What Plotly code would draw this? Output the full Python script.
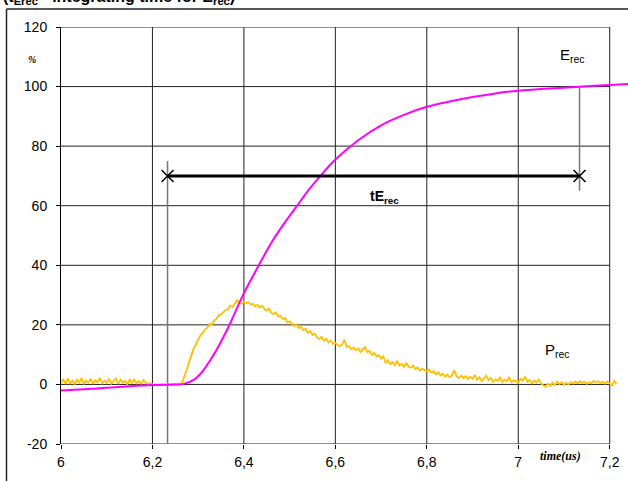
import numpy as np
import plotly.graph_objects as go

# ---------------- data ----------------
erec_t = [6.00, 6.05, 6.10, 6.15, 6.20, 6.25, 6.267, 6.29, 6.31, 6.33, 6.347, 6.369, 6.399,
          6.434, 6.463, 6.49, 6.514, 6.54, 6.565, 6.60, 6.65, 6.70, 6.75, 6.80, 6.85, 6.90,
          6.95, 7.00, 7.05, 7.10, 7.15, 7.20, 7.24]
erec_v = [-2.0, -1.6, -1.1, -0.6, -0.2, 0.0, 0.1, 1.5, 4.5, 9.0, 13.5, 20.2, 30.3,
          40.4, 48.3, 54.5, 59.5, 65.0, 69.6, 75.5, 82.0, 87.0, 90.5, 93.2, 95.0, 96.5,
          97.7, 98.6, 99.2, 99.6, 100.1, 100.5, 100.9]

prec_t0 = 6.0
prec_dt = 0.005
prec_v = [
    0.5, 1.8, 0.2, 2.0, 0.4, 1.3, 0.0, 1.6, 0.7, 2.1,
    0.3, 1.2, 0.6, 1.9, 0.2, 1.4, 0.8, 2.2, 0.4, 1.3,
    0.5, 1.9, 0.3, 1.1, 2.0, 0.2, 1.6, 0.6, 1.2, 0.1,
    1.6, 0.5, 1.8, 0.4, 1.1, 0.2, 1.5, 0.7, 0.1, 0.4,
    0.1, -0.2, 0.0, -0.3, 0.1, -0.1, 0.0, 0.2, -0.1, 0.1,
    0.0, 0.1, 0.2, 0.6, 2.5, 5.0, 7.5, 10.0, 12.0, 13.5,
    15.0, 16.5, 17.2, 18.5, 19.0, 20.3, 20.0, 21.5, 22.0, 23.2,
    23.5, 24.3, 25.0, 25.2, 26.4, 26.0, 27.2, 28.3, 27.4, 27.0,
    27.8, 27.3, 27.6, 26.8, 27.1, 26.2, 26.7, 25.8, 26.4, 25.3,
    24.8, 25.5, 24.0, 23.6, 24.2, 22.8, 23.1, 21.9, 22.4, 20.8,
    21.2, 20.3, 19.6, 20.1, 18.9, 19.4, 18.2, 18.7, 17.3, 17.9,
    16.6, 17.1, 15.8, 15.2, 16.0, 14.7, 15.3, 14.1, 14.8, 13.6,
    13.9, 13.2, 12.8, 13.4, 15.0, 12.6, 12.9, 11.8, 12.4, 11.5,
    12.1, 10.9, 11.6, 12.5, 10.8, 11.3, 9.9, 10.6, 9.3, 9.8,
    8.7, 9.4, 7.2, 8.1, 6.8, 7.5, 6.5, 7.9, 6.3, 6.9,
    5.8, 7.2, 6.0, 5.6, 6.4, 5.1, 5.7, 4.6, 5.3, 4.8,
    4.4, 5.0, 3.9, 4.5, 3.4, 4.1, 3.0, 3.6, 2.6, 3.3,
    2.4, 3.1, 4.8, 2.7, 2.2, 3.0, 2.1, 2.8, 1.8, 2.6,
    1.9, 3.2, 1.5, 2.4, 1.1, 2.0, 2.9, 1.4, 2.2, 0.9,
    1.7, 1.2, 2.3, 0.8, 1.6, 1.0, 2.5, 0.7, 1.4, 1.1,
    0.6, 1.9, 1.3, 2.6, 0.9, 1.5, 0.4, 1.2, 0.8, 1.6,
    0.3, -0.4, -0.8, 0.2, -0.5, 0.6, -0.3, 0.9, 0.1, 0.7,
    -0.2, 0.5, 0.0, 0.8, 0.3, 1.0, 0.4, 1.1, 0.6, 0.9,
    0.2, 0.7, 0.4, 1.2, 0.8, 1.0, 0.5, 0.9, 0.3, 1.0,
    0.4, -0.3, 1.2, 0.2,
]
prec_t = [round(prec_t0 + i * prec_dt, 3) for i in range(len(prec_v))]

te_start = 6.233
te_end = 7.134
te_level = 70

x_ticks = [6.0, 6.2, 6.4, 6.6, 6.8, 7.0, 7.2]
x_tick_labels = ["6", "6,2", "6,4", "6,6", "6,8", "7", "7,2"]
y_ticks = [-20, 0, 20, 40, 60, 80, 100, 120]
y_tick_labels = ["-20", "0", "20", "40", "60", "80", "100", "120"]

X_MIN, X_MAX, X_VIEW = 6.0, 7.2, 7.24
Y_MIN, Y_MAX = -20, 120

# ---------------- figure ----------------
fig = go.Figure()

fig.add_trace(go.Scatter(x=prec_t, y=prec_v, mode="lines",
                         line=dict(color="#FFC000", width=1.8), showlegend=False,
                         hoverinfo="skip"))
fig.add_trace(go.Scatter(x=erec_t, y=erec_v, mode="lines",
                         line=dict(color="#FF00FF", width=2, shape="spline"),
                         showlegend=False, hoverinfo="skip"))
fig.add_trace(go.Scatter(x=[te_start, te_end], y=[te_level, te_level], mode="lines+markers",
                         line=dict(color="black", width=3),
                         marker=dict(symbol="x-thin", size=12, line=dict(color="black", width=1.5)),
                         showlegend=False, hoverinfo="skip"))

shapes = []
grid_color = "#222222"
for yv in y_ticks:
    shapes.append(dict(type="line", xref="x", yref="y", x0=X_MIN, x1=X_MAX, y0=yv, y1=yv,
                       line=dict(color=grid_color, width=1), layer="below"))
for xv in x_ticks[1:]:
    shapes.append(dict(type="line", xref="x", yref="y", x0=xv, x1=xv, y0=Y_MIN, y1=Y_MAX,
                       line=dict(color=grid_color, width=1), layer="below"))
# tE drop lines
shapes.append(dict(type="line", xref="x", yref="y", x0=te_start, x1=te_start, y0=Y_MIN, y1=75,
                   line=dict(color="#777777", width=1.5), layer="below"))
shapes.append(dict(type="line", xref="x", yref="y", x0=te_end, x1=te_end, y0=65, y1=100,
                   line=dict(color="#777777", width=1.5), layer="below"))
# outer chart frame (partially visible)
fx = (6.5 - 61) / 567
fy = (444 - 9) / 417
shapes.append(dict(type="line", xref="paper", yref="paper", x0=fx, x1=fx, y0=-0.2, y1=fy,
                   line=dict(color="#222222", width=1.5)))
shapes.append(dict(type="line", xref="paper", yref="paper", x0=fx, x1=1.1, y0=fy, y1=fy,
                   line=dict(color="#222222", width=1.5)))

annotations = [
    dict(text="(t<sub>Erec</sub> - integrating time for E<sub>rec</sub>)", xref="paper", yref="paper",
         x=-0.105, y=(444 - 9) / 417, xanchor="left", yanchor="bottom", showarrow=False,
         font=dict(family="Arial, Liberation Sans", size=16, color="black", weight="bold")),
    dict(text="E<sub>rec</sub>", xref="x", yref="y", x=7.118, y=110.5, showarrow=False,
         font=dict(family="Arial, Liberation Sans", size=15, color="black")),
    dict(text="P<sub>rec</sub>", xref="x", yref="y", x=7.085, y=11.5, showarrow=False,
         font=dict(family="Arial, Liberation Sans", size=15, color="black")),
    dict(text="<b>tE<sub>rec</sub></b>", xref="x", yref="y", x=6.708, y=63, showarrow=False,
         font=dict(family="Arial, Liberation Sans", size=14, color="black")),
    dict(text="<b><i>%</i></b>", xref="paper", yref="y", x=(26 - 61) / 567, y=109, showarrow=False,
         font=dict(family="Liberation Serif, Times New Roman", size=10, color="black")),
    dict(text="<b><i>time(us)</i></b>", xref="x", yref="paper", x=7.092, y=(444 - 465) / 417,
         showarrow=False,
         font=dict(family="Liberation Serif, Times New Roman", size=12, color="black")),
]

fig.update_layout(
    width=628, height=481,
    margin=dict(l=61, r=0, t=27, b=37, pad=0),
    paper_bgcolor="white", plot_bgcolor="white",
    shapes=shapes, annotations=annotations,
    font=dict(family="Arial, Liberation Sans", size=14, color="black"),
    xaxis=dict(range=[X_MIN, X_VIEW], tickvals=x_ticks, ticktext=x_tick_labels,
               showgrid=False, zeroline=False, showline=False, automargin=False,
               ticks="outside", ticklen=4, tickcolor="black", tickwidth=1,
               ticklabelstandoff=1, tickfont=dict(size=14)),
    yaxis=dict(range=[Y_MIN, Y_MAX], tickvals=y_ticks, ticktext=y_tick_labels,
               showgrid=False, zeroline=False, showline=True, linecolor="black", linewidth=1,
               automargin=False,
               ticks="outside", ticklen=4, tickcolor="black", tickwidth=1,
               ticklabelstandoff=6, tickfont=dict(size=14)),
)

fig.write_html("out.html", config={"displayModeBar": False},
               post_script="document.body.style.margin='0';document.body.style.padding='0';")
